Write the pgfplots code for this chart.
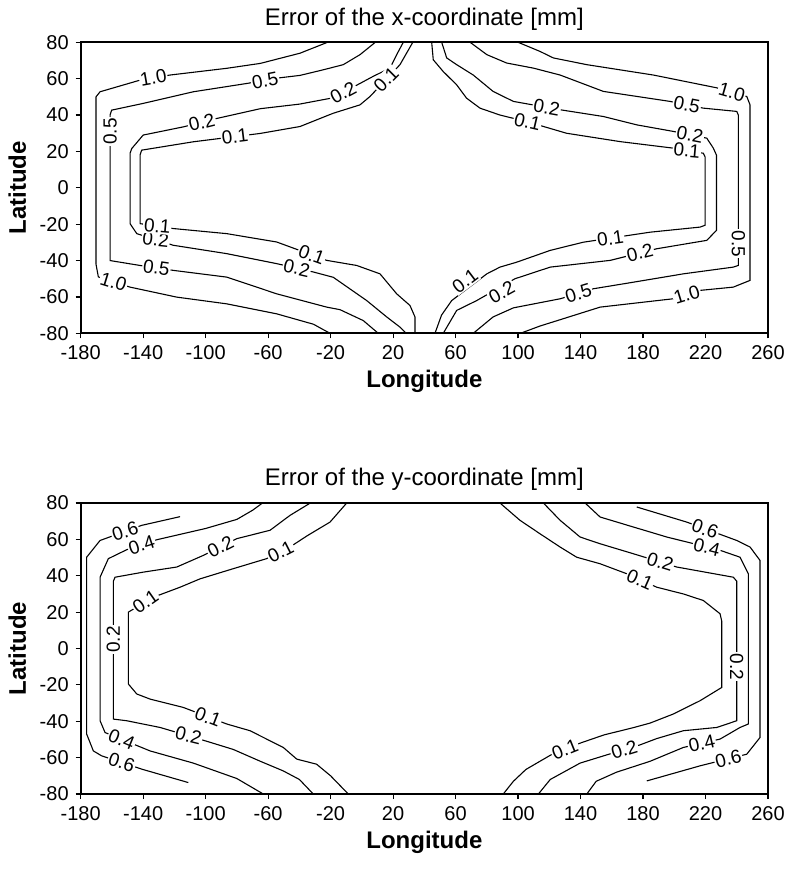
\documentclass[border=0pt]{standalone}
\usepackage{fontspec}
\setmainfont{Liberation Sans}
\usepackage{pgfplots}
\pgfplotsset{compat=1.18}
\pgfplotsset{
  errax/.style={
    scale only axis, width=343.65pt, height=145.5pt,
    xmin=-180, xmax=260, ymin=-80, ymax=80,
    xtick={-180,-140,...,260}, ytick={-80,-60,...,80},
    tick align=outside, tick pos=left, major tick length=2.5pt,
    axis line style={line width=0.9pt},
    every tick/.style={black, line width=0.6pt},
    ticklabel style={font=\fontsize{10}{12}\selectfont},
    /pgf/number format/assume math mode=true,
    title style={font=\fontsize{12}{14}\selectfont, yshift=-3.5pt},
    label style={font=\bfseries\fontsize{12}{14}\selectfont},
    xlabel style={yshift=1.5pt},
    xlabel={Longitude}, ylabel={Latitude},
  },
  cl/.style={black, line width=0.55pt, mark=none},
}
\tikzset{lb/.style={fill=white, inner sep=0.5pt, font=\fontsize{9.5}{10}\selectfont}}
\begin{document}
\begin{tikzpicture}
% ---------------- top: x-coordinate ----------------
\begin{axis}[errax, name=top, at={(40.35pt,-21.15pt)}, anchor=north west,
  title={Error of the x-coordinate [mm]}]
% 1.0 left
\addplot[cl] coordinates {(-22,80) (-39.6,74) (-65,68.4) (-86.5,65.7) (-122.8,62) (-142,59.2) (-167.6,52.8) (-170.2,50) (-170.2,-42) (-168.7,-49) (-148.4,-54.6) (-118.5,-60.1) (-86.5,-63.8) (-54.5,-69.3) (-31,-75) (-20.4,-80)};
% 0.5 left
\addplot[cl] coordinates {(8.6,80) (-1.2,73.2) (-11.9,67.7) (-24.6,64.9) (-39.6,61.8) (-52.4,60.5) (-73.4,57.4) (-107.9,52.8) (-140,46.4) (-160.2,42.7) (-161.2,40) (-161.2,-40) (-142,-42.7) (-120.7,-45.4) (-86.5,-49.1) (-54.5,-58.3) (-22.5,-65.6) (-14,-67) (0.9,-73) (10.5,-80)};
% 0.2 left
\addplot[cl] coordinates {(26.5,80) (22.3,73.2) (18,65.8) (7.3,61.3) (-18.3,49.5) (-40,46) (-65,43.5) (-93,38.1) (-114.3,33.5) (-140,29) (-147.3,21.6) (-148.4,19) (-148.4,-19.7) (-144.1,-25.2) (-120.7,-31.6) (-86.5,-36.2) (-54.5,-41.7) (-31,-46.3) (-18.3,-49.2) (3.1,-62) (15.9,-71) (24.4,-76.6) (28.3,-80)};
% 0.1 left
\addplot[cl] coordinates {(32.6,80) (24.4,67.7) (5.2,50.2) (-1.2,45.6) (-18.3,41) (-39.6,33.7) (-65,29.9) (-107.9,25.3) (-141,20.7) (-142,18) (-142,-19.7) (-120.7,-22.4) (-86.5,-25.2) (-54.5,-29.8) (-22.5,-39.9) (-3.3,-42.7) (11.6,-47.3) (22.3,-58.3) (30.8,-64.7) (34,-71) (34,-80)};
% 0.1 right
\addplot[cl] coordinates {(44.7,80) (45.7,70.4) (52,64) (60.7,56.6) (67,49.3) (75.6,43.8) (88.4,40) (106,36.3) (131,30) (165.3,25.4) (199.4,21.8) (218.6,19) (219.7,17) (219.7,-20.6) (216.5,-21.6) (184.5,-24.4) (141.8,-29.9) (120.6,-34.4) (99.1,-40.9) (88.4,-43.6) (80,-47.3) (57.5,-62) (51,-70) (46.8,-80)};
% 0.2 right
\addplot[cl] coordinates {(51.1,80) (54.3,71.4) (60.7,67.7) (71.3,62) (84,53) (97,47.5) (127,42.9) (154.6,39.2) (176,34.6) (199.4,31) (220.8,27.3) (225,21.8) (227,18) (227,-23.4) (220.8,-28.9) (188.8,-33.5) (159,-39.9) (120.6,-43.6) (98,-50) (73.5,-62) (60.7,-67.4) (52.1,-80)};
% 0.5 right
\addplot[cl] coordinates {(69.3,80) (80,73.2) (92.7,68.6) (109.8,65.8) (126.9,62) (154.6,53) (197.3,47.5) (218.6,43.8) (240,42) (241,40) (241,-42.7) (237.8,-43.6) (205.8,-47.3) (173.8,-51.9) (148.2,-55.5) (127,-61) (97,-66) (84,-71) (71.3,-80)};
% 1.0 right
\addplot[cl] coordinates {(100,80) (114,75) (122.6,71.4) (144,67.7) (186.6,62) (227,55) (246.4,50.2) (248.5,45.6) (248.5,-50.9) (237.8,-54.6) (216.5,-56.4) (199.4,-61) (152.5,-65.6) (127,-72.5) (114,-76) (101.5,-80)};
% labels
\node[lb,rotate=10] at (-133.5,60.4) {1.0};
\node[lb,rotate=-17] at (-159,-51.7) {1.0};
\node[lb,rotate=11] at (-62,59.1) {0.5};
\node[lb,rotate=90] at (-161.2,31) {0.5};
\node[lb,rotate=-8] at (-131.5,-44) {0.5};
\node[lb,rotate=28] at (-12,52.4) {0.2};
\node[lb,rotate=14] at (-102.5,36) {0.2};
\node[lb,rotate=-6] at (-132,-28.5) {0.2};
\node[lb,rotate=-13] at (-41.7,-44.2) {0.2};
\node[lb,rotate=45] at (15.5,59.6) {0.1};
\node[lb,rotate=7] at (-81.2,28.2) {0.1};
\node[lb,rotate=-5] at (-131,-21.1) {0.1};
\node[lb,rotate=-20] at (-32.1,-36.9) {0.1};
\node[lb,rotate=-13] at (106,36.3) {0.1};
\node[lb,rotate=-5] at (208,20.5) {0.1};
\node[lb,rotate=8] at (159,-27.7) {0.1};
\node[lb,rotate=37] at (66,-51.3) {0.1};
\node[lb,rotate=29] at (89.5,-57.3) {0.2};
\node[lb,rotate=-10] at (118.3,44.2) {0.2};
\node[lb,rotate=-11] at (210,29.2) {0.2};
\node[lb,rotate=14] at (178,-35.8) {0.2};
\node[lb,rotate=-11] at (208,45.7) {0.5};
\node[lb,rotate=-90] at (241,-30.7) {0.5};
\node[lb,rotate=17] at (138.6,-58) {0.5};
\node[lb,rotate=-16] at (236.8,52.6) {1.0};
\node[lb,rotate=17] at (208,-58.7) {1.0};
\end{axis}
% ---------------- bottom: y-coordinate ----------------
\begin{axis}[errax, name=bot, at={(40.35pt,-251.5pt)}, anchor=north west,
  title={Error of the y-coordinate [mm]}]
% 0.6 left
\addplot[cl] coordinates {(-116.4,72.5) (-141,67.7) (-167.6,59.4) (-176.2,50.2) (-176.2,-47) (-171.9,-56.3) (-166.6,-59) (-141,-66.3) (-111.1,-73.7)};
% 0.4 left
\addplot[cl] coordinates {(-63.6,80) (-70,76) (-80,71) (-100,66) (-131.3,59.8) (-150.6,54.3) (-162.3,49.4) (-167.6,39.2) (-167.6,-39.7) (-164.4,-46.2) (-141,-54.4) (-135.6,-56.3) (-107.9,-63) (-80,-71.5) (-63.1,-80)};
% 0.2 left
\addplot[cl] coordinates {(-33,80) (-46,73.2) (-58.8,65) (-80.1,60.4) (-101.5,51.2) (-118.5,44.8) (-139.9,42) (-158,39.2) (-159.1,37) (-159.1,-38.8) (-150.6,-39.7) (-129.2,-43.4) (-99.3,-51) (-82.3,-55.5) (-65,-62) (-50.3,-67.3) (-40,-72) (-31.1,-80)};
% 0.1 left
\addplot[cl] coordinates {(-9.7,80) (-20.4,69.5) (-35,62) (-43.9,57) (-61,49.4) (-82.3,43.9) (-103.6,38.3) (-116.4,33.7) (-133.5,28.2) (-149.5,20) (-149.5,-19.5) (-144.1,-25) (-135.6,-27.8) (-114.3,-32.4) (-86.5,-41.5) (-71.6,-45.2) (-50.3,-54.4) (-41.7,-60.8) (-29,-63.6) (-20,-70) (-8.7,-80)};
% 0.1 right
\addplot[cl] coordinates {(88.4,80) (101.2,70.5) (114,63.1) (126.9,55.8) (137.5,50.2) (152.5,46.6) (169.6,41.1) (188.8,33.7) (205.8,30) (218.6,26.4) (229.3,19.1) (230.4,15) (230.4,-21.4) (216.5,-28.7) (199.4,-36) (184.5,-41) (173.8,-43.5) (155,-47.5) (139.8,-52) (121,-58.5) (105,-66.5) (97,-73) (90.5,-80)};
% 0.2 right
\addplot[cl] coordinates {(116.2,80) (126.9,70.5) (139.7,61.3) (152.5,57.6) (173.8,52.1) (201.6,44.8) (237.8,39.2) (240,37) (240,-39.7) (227.2,-43.4) (205.8,-45.2) (188.8,-49.5) (178,-53) (156.7,-58.5) (139.7,-63) (120.6,-72) (113,-80)};
% 0.4 right
\addplot[cl] coordinates {(142.9,80) (152.5,72.3) (173.8,66.8) (195.2,61.3) (229.3,54) (242.1,50.2) (247.4,41.1) (247.4,-41.5) (242.1,-43.4) (229.3,-49.8) (205.8,-54.4) (184.5,-62) (163,-68) (150,-73) (144,-80)};
% 0.6 right
\addplot[cl] coordinates {(176,77.8) (208,69.5) (240,59.4) (248.5,55.8) (254.9,48.4) (254.9,-48.9) (246.4,-58.1) (216.5,-64.5) (182.4,-72.8)};
% labels
\node[lb,rotate=18] at (-151.6,64.4) {0.6};
\node[lb,rotate=-18] at (-153.8,-62.6) {0.6};
\node[lb,rotate=18] at (-141,57) {0.4};
\node[lb,rotate=-22] at (-153.8,-50) {0.4};
\node[lb,rotate=27] at (-90.5,55.9) {0.2};
\node[lb,rotate=90] at (-159.1,5) {0.2};
\node[lb,rotate=-14] at (-111,-48) {0.2};
\node[lb,rotate=27] at (-52,53.4) {0.1};
\node[lb,rotate=35] at (-138.5,25.9) {0.1};
\node[lb,rotate=-21] at (-98.5,-37.6) {0.1};
\node[lb,rotate=-24] at (178,37.9) {0.1};
\node[lb,rotate=22] at (130,-55.4) {0.1};
\node[lb,rotate=-17] at (191,47.6) {0.2};
\node[lb,rotate=-90] at (240,-10) {0.2};
\node[lb,rotate=17] at (168,-55.6) {0.2};
\node[lb,rotate=-14] at (220.8,55.8) {0.4};
\node[lb,rotate=13] at (217.6,-52.1) {0.4};
\node[lb,rotate=-20] at (219.7,65.8) {0.6};
\node[lb,rotate=14] at (234.6,-60.6) {0.6};
\end{axis}
\pgfresetboundingbox
\path[use as bounding box] (0,0) rectangle (393.5pt,-435.5pt);
\end{tikzpicture}
\end{document}
